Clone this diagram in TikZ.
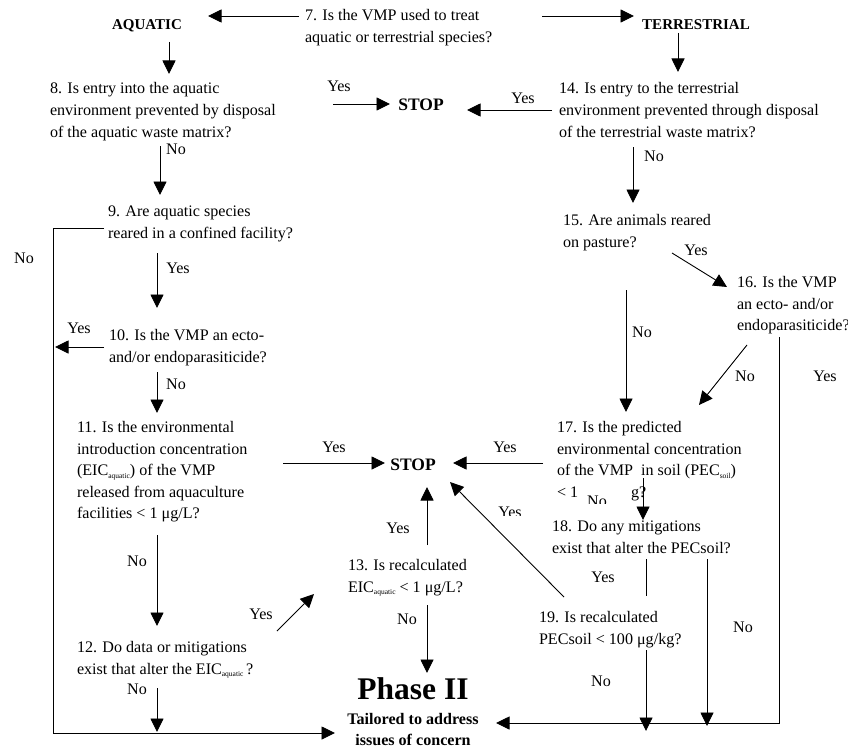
\documentclass[tikz,border=0pt]{standalone}
\usepackage{fontspec}
\setmainfont{Liberation Serif}
\usetikzlibrary{arrows.meta,calc}
% multi-line text blocks whose base anchor is the first baseline
\newcommand\qlines[1]{\begin{tabular}[t]{@{}l@{}}#1\end{tabular}}
\newcommand\clines[1]{\begin{tabular}[t]{@{}c@{}}#1\end{tabular}}
\newcommand\lowsub[1]{\raisebox{-2.6pt}{\fontsize{7.5}{8}\selectfont #1}}
\tikzset{
  every node/.style={inner sep=0pt, outer sep=0pt, font=\fontsize{16.1}{21.6}\selectfont},
  q/.style={anchor=base west},
  lab/.style={anchor=base},
  head/.style={anchor=base, font=\fontsize{15}{18}\selectfont\bfseries},
  stopbox/.style={anchor=base, font=\fontsize{17.5}{20}\selectfont\bfseries},
  arr/.style={line width=0.9pt, -{Triangle[length=13.5pt,width=13pt]}},
  ln/.style={line width=0.9pt},
}
\begin{document}
\begin{tikzpicture}[x=1pt,y=-1pt]
\useasboundingbox (0,0) rectangle (848,749);

% ---- headings and questions
\node[head] (aquatic) at (147,29.5) {AQUATIC};
\node[head] (terr) at (696,29.5) {TERRESTRIAL};
\node[q] (q7) at (305,21) {\qlines{7. Is the VMP used to treat\\aquatic or terrestrial species?}};
\node[q] (q8) at (50,94) {\qlines{8. Is entry into the aquatic\\environment prevented by disposal\\of the aquatic waste matrix?}};
\node[stopbox] (stopA) at (421,110.5) {STOP};
\node[q] (q14) at (559,94) {\qlines{14. Is entry to the terrestrial\\environment prevented through disposal\\of the terrestrial waste matrix?}};
\node[q] (q9) at (108,216.5) {\qlines{9. Are aquatic species\\reared in a confined facility?}};
\node[q] (q15) at (563,225.5) {\qlines{15. Are animals reared\\on pasture?}};
\node[q] (q16) at (737,287.5) {\qlines{16. Is the VMP\\an ecto- and/or\\endoparasiticide?}};
\node[q] (q10) at (109,340.5) {\qlines{10. Is the VMP an ecto-\\and/or endoparasiticide?}};
\node[q] (q11) at (77,432.5) {\qlines{11. Is the environmental\\introduction concentration\\(EIC\lowsub{aquatic}) of the VMP\\released from aquaculture\\facilities < 1 μg/L?}};
\node[q] (q17) at (557,432.5) {\qlines{17. Is the predicted\\environmental concentration\\of the VMP\ \ in soil (PEC\lowsub{soil})\\< 1}};
\node[q] (q17tail) at (631,497.3) {g?};
\node[stopbox] (stopB) at (413,470) {STOP};
\node[q] (q18) at (552,531.5) {\qlines{18. Do any mitigations\\exist that alter the PECsoil?}};
\node[q] (q13) at (348,570.5) {\qlines{13. Is recalculated\\EIC\lowsub{aquatic} < 1 μg/L?}};
\node[q] (q19) at (539,622.5) {\qlines{19. Is recalculated\\PECsoil < 100 μg/kg?}};
\node[q] (q12) at (77,652.5) {\qlines{12. Do data or mitigations\\exist that alter the EIC\lowsub{aquatic}\,?}};
\node[anchor=base, font=\fontsize{31.5}{34}\selectfont\bfseries] (phase) at (413,699) {Phase II};
\node[anchor=base, font=\fontsize{16.1}{21}\selectfont\bfseries] (tail) at (413,724.5) {\clines{Tailored to address\\issues of concern}};

% ---- branch labels
\node[lab] (l1) at (176,154) {No};
\node[lab] (l2) at (339,92) {Yes};
\node[lab] (l3) at (523,104) {Yes};
\node[lab] (l4) at (654,161) {No};
\node[lab] (l5) at (24,263) {No};
\node[lab] (l6) at (178,273) {Yes};
\node[lab] (l7) at (79,333) {Yes};
\node[lab] (l8) at (176,389) {No};
\node[lab] (l9) at (334,452) {Yes};
\node[lab] (l10) at (137,566) {No};
\node[lab] (l11) at (261,619) {Yes};
\node[lab] (l12) at (137,694) {No};
\node[lab] (l13) at (398,533) {Yes};
\node[lab] (l14) at (505,452) {Yes};
\node[lab] (l17) at (696,255) {Yes};
\node[lab] (l18) at (745,381) {No};
\node[lab] (l19) at (825,381) {Yes};
\node[lab] (l20) at (642,337) {No};
\node[lab] (l21) at (603,582) {Yes};
\node[lab] (l22) at (743,632) {No};
\node[lab] (l23) at (601,686) {No};
\node[lab] (l24) at (407,624) {No};
% labels partly hidden under the text above them
\begin{scope}
  \clip (480,490) rectangle (540,515);
  \node[lab] (l15) at (510,517) {Yes};
\end{scope}
\begin{scope}
  \clip (584,485) rectangle (612,503);
  \node[lab] (l16) at (597,506.5) {No};
\end{scope}

% ---- connectors
\draw[arr] ($(q7.base west)+(-6,-5)$) -- ($(aquatic.base)+(61,-13.5)$);
\draw[arr] ($(q7.base west)+(237,-5)$) -- ($(terr.base)+(-62,-13.5)$);
\draw[arr] ($(aquatic.base)+(22,12.5)$) -- ($(q8.base west)+(119,-20)$);
\draw[arr] ($(terr.base)+(-18,3.5)$) -- ($(q14.base west)+(119,-22)$);
\draw[arr] ($(q8.base west)+(283,10)$) -- ($(stopA.base)+(-31,-6.5)$);
\draw[arr] ($(q14.base west)+(-7,16)$) -- ($(stopA.base)+(46,-0.5)$);
\draw[arr] ($(q8.base west)+(110,52)$) -- ($(q9.base west)+(52,-21.5)$);
\draw[arr] ($(q14.base west)+(74,53)$) -- ($(q15.base west)+(70,-22.5)$);
\draw[arr] ($(q9.base west)+(49,36.5)$) -- ($(q10.base west)+(48,-32.5)$);
\draw[arr] ($(q10.base west)+(-5,6.5)$) -- ($(q10.base west)+(-54,6.5)$);
\draw[arr] ($(q9.base west)+(-4,11.5)$) -- ($(q9.base west)+(-55,11.5)$) |- ($(tail.base)+(-78,8.5)$);
\draw[arr] ($(q10.base west)+(48,31.5)$) -- ($(q11.base west)+(80,-19.5)$);
\draw[arr] ($(q15.base west)+(109,27.5)$) -- ($(q16.base west)+(-10,-0.5)$);
\draw[arr] ($(q15.base west)+(63,64.5)$) -- ($(q17.base west)+(69,-20.5)$);
\draw[arr] ($(q16.base west)+(10,57.5)$) -- ($(q17.base west)+(142,-27.5)$);
\draw[arr] ($(q16.base west)+(42,49.5)$) |- ($(tail.base)+(83,-1.5)$);
\draw[arr] ($(q11.base west)+(206,30.5)$) -- ($(stopB.base)+(-28,-7)$);
\draw[arr] ($(q17.base west)+(-14,30.5)$) -- ($(stopB.base)+(40,-7)$);
\draw[arr] ($(q17.base west)+(86,45.5)$) -- ($(q18.base west)+(91,-11.5)$);
\draw[arr] ($(q11.base west)+(80,102.5)$) -- ($(q12.base west)+(80,-26.5)$);
\draw[arr] ($(q12.base west)+(200,-21.5)$) -- ($(q13.base west)+(-34,23.5)$);
\draw[arr] ($(q13.base west)+(79,-25.5)$) -- ($(stopB.base)+(14,17)$);
\draw[arr] ($(q19.base west)+(25,-25.5)$) -- ($(stopB.base)+(37,12)$);
\draw[ln] ($(q18.base west)+(94,27.5)$) -- ($(q19.base west)+(107,-26.5)$);
\draw[arr] ($(q18.base west)+(155,27.5)$) -- ($(tail.base)+(294,1.5)$);
\draw[arr] ($(q19.base west)+(107,27.5)$) -- ($(tail.base)+(233,6.5)$);
\draw[arr] ($(q12.base west)+(80,35.5)$) -- ($(tail.base)+(-256,7.5)$);
\draw[arr] ($(q13.base west)+(79,34.5)$) -- ($(phase.base)+(14,-26)$);
\end{tikzpicture}
\end{document}
